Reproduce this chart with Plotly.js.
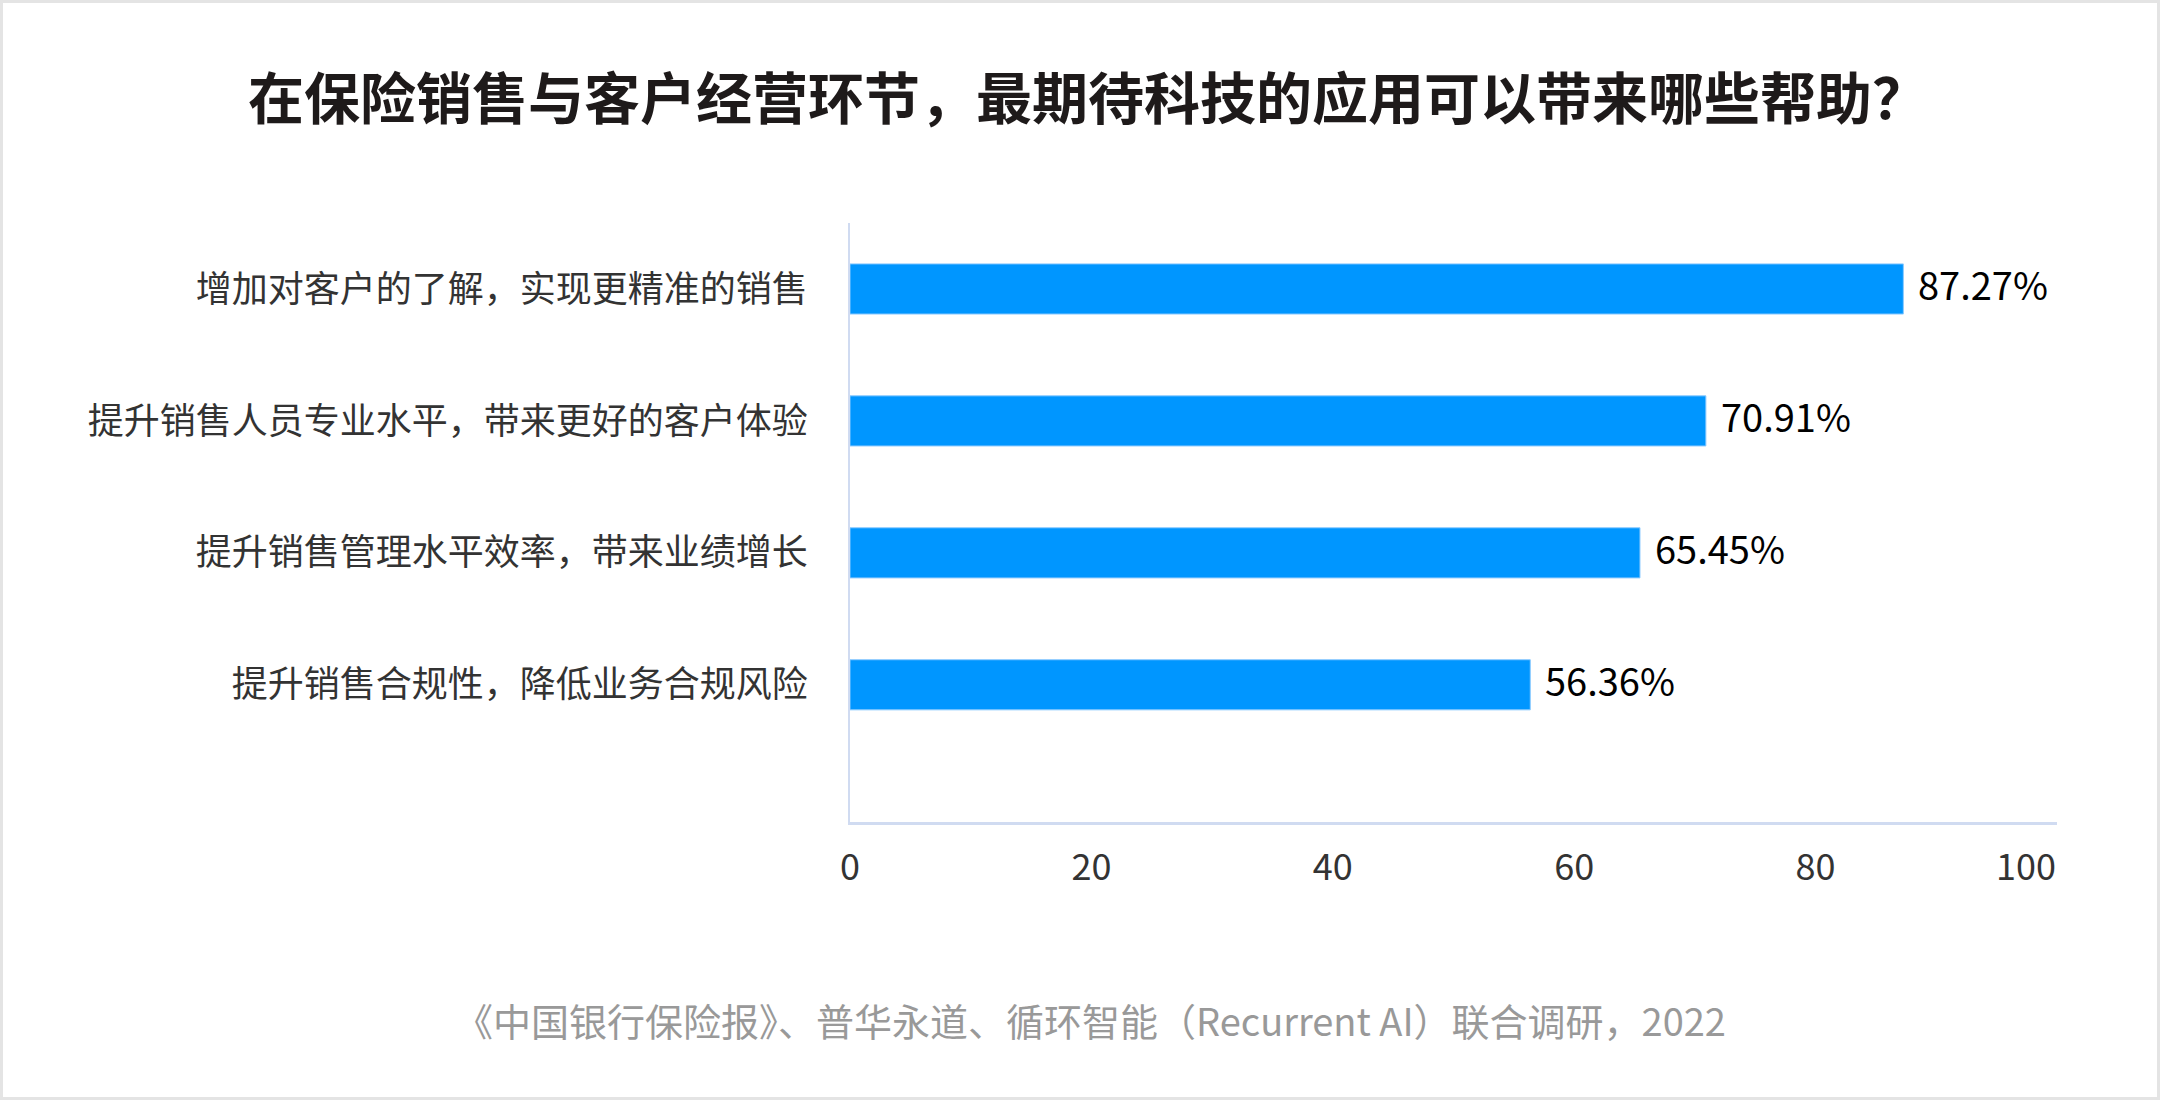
<!DOCTYPE html>
<html lang="zh">
  <head>
    <meta charset="UTF-8" />
    <title>保险销售与客户经营 科技应用期待</title>
    <script src="https://cdn.plot.ly/plotly-3.0.1.min.js"></script>
    <style>
      * {
        margin: 0;
        padding: 0;
        box-sizing: border-box;
      }
      body {
        background: #ffffff;
      }
      .wrap {
        position: relative;
        width: 2160px;
        height: 1100px;
      }
      #chart {
        width: 2160px;
        height: 1100px;
      }
      .frame {
        position: absolute;
        left: 0;
        top: 0;
        width: 2160px;
        height: 1100px;
        border: 3px solid #e4e4e4;
        pointer-events: none;
        z-index: 10;
      }
    </style>
  </head>
  <body>
    <div class="wrap">
      <div id="chart"></div>
      <div class="frame"></div>
    </div>
    <script>
      // 数据（自上而下）
      const categories = [
        "增加对客户的了解，实现更精准的销售",
        "提升销售人员专业水平，带来更好的客户体验",
        "提升销售管理水平效率，带来业绩增长",
        "提升销售合规性，降低业务合规风险",
      ];
      const values = [87.27, 70.91, 65.45, 56.36];
      const valueLabels = ["87.27%", "70.91%", "65.45%", "56.36%"];
      const xTicks = [0, 20, 40, 60, 80, 100];
      // Excel 把最后一个刻度标签收进图内，用空格把它往左推
      const xTickText = ["0", "20", "40", "60", "80", "100\u2002\u2002\u2002\u00a0"];

      const font = '"Noto Sans CJK SC", "Noto Sans", sans-serif';

      const data = [
        {
          type: "bar",
          orientation: "h",
          y: categories,
          x: values,
          width: 0.38,
          marker: {
            color: "#0096ff",
            line: { color: "#8ccaff", width: 1 },
          },
          hoverinfo: "skip",
        },
      ];

      // 数值标签
      const valueNotes = values.map((v, i) => ({
        x: v,
        y: categories[i],
        xref: "x",
        yref: "y",
        text: valueLabels[i],
        xanchor: "left",
        yanchor: "middle",
        xshift: 13,
        yshift: 5,
        showarrow: false,
        font: { family: font, size: 38, color: "#000000" },
      }));

      const layout = {
        width: 2160,
        height: 1100,
        margin: { l: 850, r: 103, t: 223, b: 278 },
        paper_bgcolor: "#ffffff",
        plot_bgcolor: "#ffffff",
        showlegend: false,
        font: { family: font },
        title: {
          text: "在保险销售与客户经营环节，最期待科技的应用可以带来哪些帮助？",
          font: { family: font, size: 56, color: "#1e1a1a", weight: "bold" },
          x: 0.5037,
          xanchor: "center",
          y: 0.91,
          yanchor: "middle",
        },
        xaxis: {
          range: [0, 100],
          tickvals: xTicks,
          ticktext: xTickText,
          showgrid: false,
          zeroline: false,
          showline: true,
          linecolor: "#d0dbf1",
          linewidth: 3,
          ticks: "",
          ticklabelstandoff: 12,
          tickfont: { family: font, size: 36, color: "#333333" },
          fixedrange: true,
        },
        yaxis: {
          type: "category",
          categoryorder: "array",
          categoryarray: categories,
          range: [4.04, -0.5],
          showgrid: false,
          zeroline: false,
          showline: true,
          linecolor: "#d0dbf1",
          linewidth: 2,
          ticks: "",
          ticklabelstandoff: 33,
          tickfont: { family: font, size: 36, color: "#333333" },
          fixedrange: true,
        },
        annotations: valueNotes.concat([
          {
            text: "《中国银行保险报》、普华永道、循环智能（Recurrent AI）联合调研，2022",
            xref: "paper",
            yref: "paper",
            x: 0.1992,
            y: -0.329,
            xanchor: "center",
            yanchor: "middle",
            showarrow: false,
            font: { family: font, size: 38, color: "#999999" },
          },
        ]),
      };

      Plotly.newPlot("chart", data, layout, { displayModeBar: false, staticPlot: true });
    </script>
  </body>
</html>
